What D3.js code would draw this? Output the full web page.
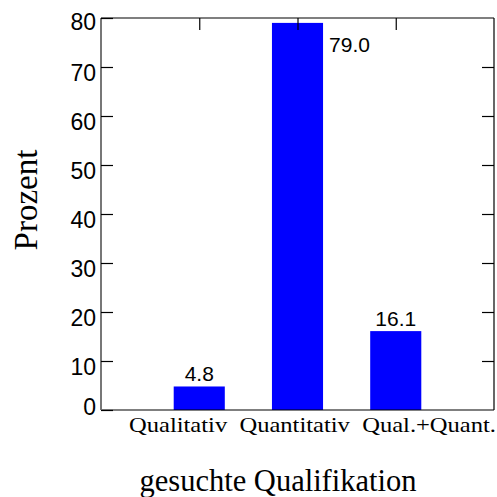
<!DOCTYPE html>
<html>
<head>
<meta charset="utf-8">
<script src="https://cdn.jsdelivr.net/npm/d3@7"></script>
<style>
  body { margin: 0; background: #fff; }
  svg { display: block; }
</style>
</head>
<body>
<div id="chart"></div>
<script>
const width = 497,
  height = 497,
  margin = { top: 18, bottom: 87, left: 101, right: 3 };

// data
const categories = ["Qualitativ", "Quantitativ", "Qual.+Quant."];
const values = [4.8, 79.0, 16.1];
const yTicks = [0, 10, 20, 30, 40, 50, 60, 70, 80];

const svg = d3
  .select("#chart")
  .append("svg")
  .attr("width", width)
  .attr("height", height);

// categories sit at 1, 2, 3 on a 0..4 axis
const xScale = d3
  .scaleLinear()
  .domain([0, categories.length + 1])
  .range([margin.left, width - margin.right]);

const yScale = d3
  .scaleLinear()
  .domain([0, 80])
  .range([height - margin.bottom, margin.top]);

const barHalf = 0.26;
const x0 = xScale.range()[0], x1 = xScale.range()[1];
const y0 = yScale.range()[0], y1 = yScale.range()[1];

// bars
svg
  .selectAll(".bar")
  .data(values)
  .join("rect")
  .attr("class", "bar")
  .attr("x", (d, i) => xScale(i + 1 - barHalf))
  .attr("width", xScale(2 * barHalf) - xScale(0))
  .attr("y", d => yScale(d))
  .attr("height", d => yScale(0) - yScale(d))
  .attr("fill", "#0000ff");

// frame
svg.append("line").attr("x1", x0).attr("x2", x1).attr("y1", y1).attr("y2", y1)
  .attr("stroke", "#000").attr("stroke-width", 1.2);
svg.append("line").attr("x1", x0).attr("x2", x1).attr("y1", y0).attr("y2", y0)
  .attr("stroke", "#000").attr("stroke-width", 1.2);
svg.append("line").attr("x1", x1).attr("x2", x1).attr("y1", y1).attr("y2", y0)
  .attr("stroke", "#000").attr("stroke-width", 1.2);
svg.append("line").attr("x1", x0).attr("x2", x0).attr("y1", y1).attr("y2", y0)
  .attr("stroke", "#777").attr("stroke-width", 2);

// left axis: inward ticks
const yAxis = d3.axisLeft(yScale).tickValues(yTicks).tickSize(-12).tickPadding(18)
  .tickFormat(d3.format("d"));
const gy = svg.append("g")
  .attr("transform", `translate(${x0},0)`)
  .call(yAxis);
gy.select(".domain").remove();
gy.selectAll(".tick line").attr("stroke", "#000").attr("stroke-width", 1.2);
gy.selectAll(".tick text")
  .attr("x", -5)
  .attr("dy", "0.6em")
  .attr("fill", "#000")
  .style("font-family", "Liberation Sans, Arial, sans-serif")
  .style("font-size", "23px");
gy.selectAll(".tick text").filter(d => d === 0).attr("dy", "0.2em");
gy.selectAll(".tick text").filter(d => d === 80).attr("dy", "0.5em");

// right axis: inward ticks, no labels
const gyr = svg.append("g")
  .attr("transform", `translate(${x1},0)`)
  .call(d3.axisRight(yScale).tickValues(yTicks.slice(1, -1)).tickSize(-12).tickFormat(""));
gyr.select(".domain").remove();
gyr.selectAll(".tick line").attr("stroke", "#000").attr("stroke-width", 1.2);

// top axis: inward ticks at categories
const gxt = svg.append("g")
  .attr("transform", `translate(0,${y1})`)
  .call(d3.axisTop(xScale).tickValues(categories.map((c, i) => i + 1)).tickSize(-12).tickFormat(""));
gxt.select(".domain").remove();
gxt.selectAll(".tick line").attr("stroke", "#000").attr("stroke-width", 1.2);

// value labels
svg
  .selectAll(".val")
  .data(values)
  .join("text")
  .attr("class", "val")
  .attr("x", (d, i) => d > 70 ? xScale(i + 1 + barHalf) + 6 : xScale(i + 1))
  .attr("y", d => d > 70 ? yScale(d) + 29 : yScale(d) - 5)
  .attr("text-anchor", (d) => d > 70 ? "start" : "middle")
  .style("font-family", "Liberation Sans, Arial, sans-serif")
  .style("font-size", "21px")
  .attr("fill", "#000")
  .text(d => d.toFixed(1));

// category labels, set as one line
svg.append("text")
  .attr("x", 129)
  .attr("y", 432)
  .attr("textLength", 367)
  .attr("lengthAdjust", "spacingAndGlyphs")
  .style("white-space", "pre")
  .style("font-family", "Liberation Serif, Times New Roman, serif")
  .style("font-size", "22px")
  .attr("fill", "#000")
  .text(categories.join("  "));

// axis titles
svg.append("text")
  .attr("x", 278)
  .attr("y", 491)
  .attr("text-anchor", "middle")
  .attr("textLength", 277)
  .attr("lengthAdjust", "spacingAndGlyphs")
  .style("font-family", "Liberation Serif, Times New Roman, serif")
  .style("font-size", "31px")
  .attr("fill", "#000")
  .text("gesuchte Qualifikation");

svg.append("text")
  .attr("transform", "translate(37,200) rotate(-90)")
  .attr("text-anchor", "middle")
  .style("font-family", "Liberation Serif, Times New Roman, serif")
  .style("font-size", "33px")
  .attr("fill", "#000")
  .text("Prozent");
</script>
</body>
</html>
